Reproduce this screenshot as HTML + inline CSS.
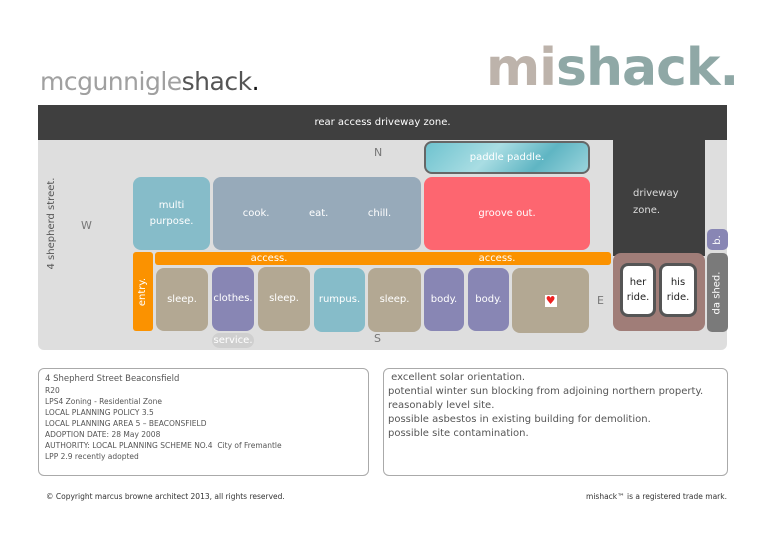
<!DOCTYPE html>
<html><head><meta charset="utf-8"><style>
body{margin:0;width:768px;height:543px;background:#fff;position:relative;overflow:hidden;font-family:"DejaVu Sans","Liberation Sans",sans-serif;}
div{position:absolute;box-sizing:border-box;}
.r{border-radius:8px;color:#fff;font-size:10px;display:flex;align-items:center;justify-content:center;text-align:center;line-height:16px;}
.t{color:#777;font-size:11px;}
</style></head><body>
<div style="left:40px;top:67px;font-size:25px;letter-spacing:-0.5px;color:#a0a0a0;font-family:'DejaVu Sans',sans-serif;">mcgunnigle<span style="color:#555">shack</span><span style="color:#111">.</span></div>
<div style="left:486px;top:38px;font-size:52px;font-weight:bold;letter-spacing:-1px;color:#bdb3ab;font-family:'DejaVu Sans',sans-serif;line-height:60px;">mi<span style="color:#8fa8a6">shack.</span></div>
<div style="left:38px;top:105px;width:689px;height:245px;background:#dedede;border-radius:0 0 6px 6px;"></div>
<div style="left:38px;top:105px;width:689px;height:35px;background:#3f3f3f;color:#fff;font-size:10px;text-align:center;line-height:35px;">rear access driveway zone.</div>
<div class="r" style="left:424px;top:141px;width:166px;height:33px;background:linear-gradient(135deg,#6fc3cf,#a9dde3 40%,#5fb5c3 70%,#9ad4dc);border:2px solid #666;">paddle paddle.</div>
<div style="left:613px;top:140px;width:92px;height:116px;background:#3f3f3f;color:#ddd;font-size:10px;padding:45px 0 0 20px;line-height:17px;">driveway<br>zone.</div>
<div class="t" style="left:374px;top:146px;">N</div>
<div class="t" style="left:374px;top:332px;">S</div>
<div class="t" style="left:81px;top:219px;">W</div>
<div class="t" style="left:597px;top:294px;">E</div>
<div style="left:40px;top:180px;width:20px;height:95px;"><div style="left:-36px;top:38px;width:95px;transform:rotate(-90deg);font-size:10px;color:#555;text-align:center;white-space:nowrap;">4 shepherd street.</div></div>
<div class="r" style="left:133px;top:177px;width:77px;height:73px;background:#86bcc9;">multi<br>purpose.</div>
<div class="r" style="left:213px;top:177px;width:208px;height:73px;background:#97aaba;justify-content:space-around;padding:0 10px;"><span>cook.</span><span>eat.</span><span>chill.</span></div>
<div class="r" style="left:424px;top:177px;width:166px;height:73px;background:#fd6670;">groove out.</div>
<div class="r" style="left:155px;top:252px;width:456px;height:13px;background:#fb9200;border-radius:3px;justify-content:space-around;line-height:13px;"><span>access.</span><span>access.</span></div>
<div class="r" style="left:133px;top:252px;width:20px;height:79px;background:#fb9200;border-radius:3px;"><span style="transform:rotate(-90deg);white-space:nowrap;">entry.</span></div>
<div class="r" style="left:156px;top:268px;width:52px;height:63px;background:#b3a893;">sleep.</div>
<div class="r" style="left:212px;top:267px;width:42px;height:64px;background:#8886b4;">clothes.</div>
<div class="r" style="left:258px;top:267px;width:52px;height:64px;background:#b3a893;">sleep.</div>
<div class="r" style="left:314px;top:268px;width:51px;height:64px;background:#86bcc9;">rumpus.</div>
<div class="r" style="left:368px;top:268px;width:53px;height:64px;background:#b3a893;">sleep.</div>
<div class="r" style="left:424px;top:268px;width:40px;height:63px;background:#8886b4;">body.</div>
<div class="r" style="left:468px;top:268px;width:41px;height:63px;background:#8886b4;">body.</div>
<div class="r" style="left:512px;top:268px;width:77px;height:65px;background:#b3a893;"><span style="background:#fff;color:#e22;width:12px;height:12px;line-height:12px;font-size:11px;">♥</span></div>
<div class="r" style="left:212px;top:333px;width:42px;height:15px;background:#cfcfcf;line-height:15px;">service.</div>
<div class="r" style="left:613px;top:253px;width:92px;height:78px;background:#a07d78;"></div>
<div class="r" style="left:620px;top:263px;width:36px;height:54px;background:#fff;border:3px solid #555;color:#222;line-height:15px;">her<br>ride.</div>
<div class="r" style="left:659px;top:263px;width:38px;height:54px;background:#fff;border:3px solid #555;color:#222;line-height:15px;">his<br>ride.</div>
<div class="r" style="left:707px;top:229px;width:21px;height:21px;background:#8886b4;border-radius:5px;"><span style="transform:rotate(-90deg)">b.</span></div>
<div class="r" style="left:707px;top:253px;width:21px;height:79px;background:#7a7a7a;border-radius:5px;"><span style="transform:rotate(-90deg);white-space:nowrap;">da shed.</span></div>
<div style="left:38px;top:368px;width:331px;height:108px;border:1px solid #aaa;border-radius:6px;padding:4px 6px;font-size:7.5px;line-height:11px;color:#555;"><span style="font-size:8.5px;line-height:12px;">4 Shepherd Street Beaconsfield</span><br>R20<br>LPS4 Zoning - Residential Zone<br>LOCAL PLANNING POLICY 3.5<br>LOCAL PLANNING AREA 5 – BEACONSFIELD<br>ADOPTION DATE: 28 May 2008<br>AUTHORITY: LOCAL PLANNING SCHEME NO.4 &nbsp;City of Fremantle<br>LPP 2.9 recently adopted</div>
<div style="left:383px;top:368px;width:345px;height:108px;border:1px solid #aaa;border-radius:6px;padding:2px 4px;font-size:10px;line-height:14px;color:#555;">&nbsp;excellent solar orientation.<br>potential winter sun blocking from adjoining northern property.<br>reasonably level site.<br>possible asbestos in existing building for demolition.<br>possible site contamination.</div>
<div style="left:46px;top:492px;font-size:7.5px;color:#333;">© Copyright marcus browne architect 2013, all rights reserved.</div>
<div style="left:560px;top:492px;width:167px;text-align:right;font-size:7.5px;color:#333;">mishack™ is a registered trade mark.</div>
</body></html>
